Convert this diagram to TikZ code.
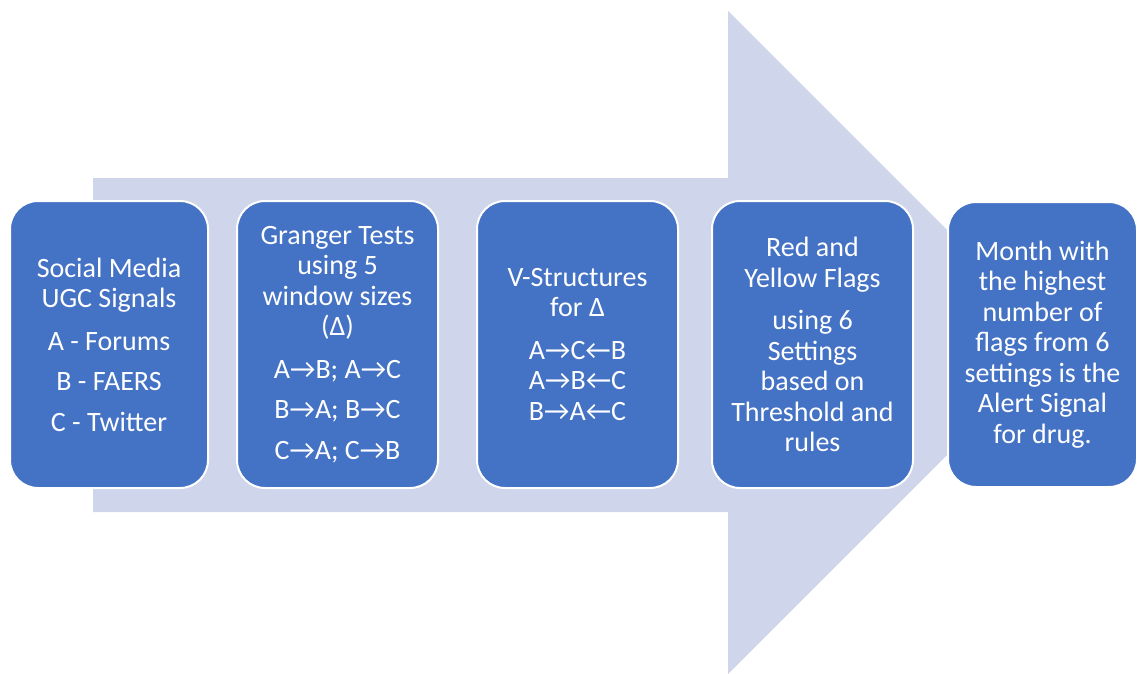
\documentclass[tikz,border=0pt]{standalone}
\usepackage{fontspec}
\setmainfont{Carlito}
\definecolor{boxblue}{HTML}{4472C4}
\definecolor{arrowfill}{HTML}{CFD5EA}
\tikzset{
  stage/.style={draw=white, line width=2pt, fill=boxblue, rounded corners=28pt,
    text=white, align=center, inner sep=0pt,
    font=\fontsize{28}{30.5}\selectfont},
}
\begin{document}
\begin{tikzpicture}[x=1pt, y=-1pt]
\useasboundingbox (0,0) rectangle (1138,674);
% big background arrow
\fill[arrowfill] (93,178) -- (728,178) -- (728,11) -- (1059.5,342.5)
  -- (728,674) -- (728,512) -- (93,512) -- cycle;
% process stages
\node[stage, minimum width=198pt, minimum height=287pt] (n1) at (109,344.5)
  {Social Media\\UGC Signals\\[12pt]A - Forums\\[10pt]B - FAERS\\[10pt]C - Twitter};
\node[stage, minimum width=201pt, minimum height=287pt] (n2) at (337.5,344.5)
  {Granger Tests\\using 5\\window sizes\\(Δ)\\[12pt]A→B; A→C\\[10pt]B→A; B→C\\[10pt]C→A; C→B};
\node[stage, minimum width=201pt, minimum height=287pt] (n3) at (577.5,344.5)
  {V-Structures\\for Δ\\[12pt]A→C←B\\A→B←C\\B→A←C};
\node[stage, minimum width=201pt, minimum height=287pt] (n4) at (812.5,344.5)
  {Red and\\Yellow Flags\\[12pt]using 6\\Settings\\based on\\Threshold and\\rules};
\node[stage, minimum width=189pt, minimum height=285pt] (n5) at (1042.5,344.5)
  {Month with\\the highest\\number of\\flags from 6\\settings is the\\Alert Signal\\for drug.};
\end{tikzpicture}
\end{document}
